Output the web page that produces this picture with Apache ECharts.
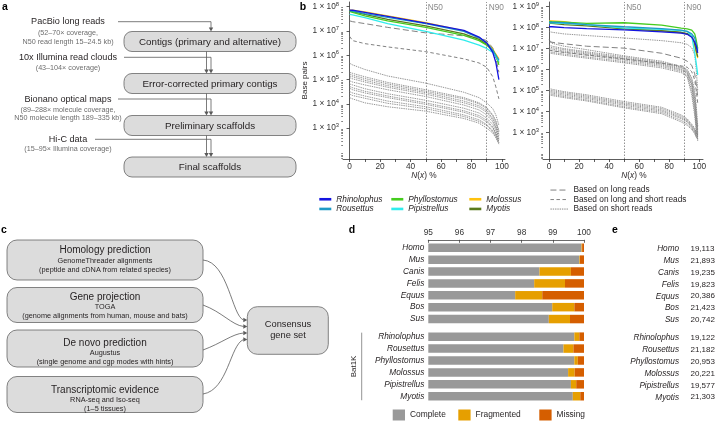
<!DOCTYPE html>
<html>
<head>
<meta charset="utf-8">
<script src="https://cdn.jsdelivr.net/npm/echarts@6.0.0/dist/echarts.min.js"></script>
<style>
html,body{margin:0;padding:0;background:#ffffff;}
#chart{width:716px;height:423px;}
</style>
</head>
<body>
<div id="chart"></div>
<script>
// ================= DATA =================
// Panel b: N(x) curves (x in %, values in base pairs)
const nxContig = [0, 2, 10, 25, 50, 75, 85, 90, 94, 96, 98];
const nxScaffold = [0, 2, 10, 25, 50, 75, 88, 92, 95, 97, 98, 99];

const batSpecies = ['Rhinolophus', 'Rousettus', 'Phyllostomus', 'Pipistrellus', 'Molossus', 'Myotis'];

const contigRhinolophus = [7.2e7, 7.1e7, 5.8e7, 4.0e7, 2.1e7, 1.05e7, 5.6e6, 3.2e6, 1.3e6, 5.0e5, 1.0e5];
const contigRousettus = [6.9e7, 6.6e7, 5.2e7, 3.6e7, 2.0e7, 9.5e6, 5.2e6, 3.2e6, 1.6e6, 1.0e6, 6.3e5];
const contigPhyllostomus = [6.3e7, 5.8e7, 4.2e7, 2.6e7, 1.4e7, 6.6e6, 4.0e6, 2.6e6, 1.6e6, 1.0e6, 4.0e5];
const contigPipistrellus = [4.8e7, 4.6e7, 3.5e7, 2.0e7, 9.5e6, 4.2e6, 2.6e6, 1.9e6, 1.3e6, 8.9e5, 5.6e5];
const contigMolossus = [7.1e7, 7.1e7, 6.0e7, 4.2e7, 2.2e7, 1.0e7, 5.2e6, 3.2e6, 1.8e6, 1.1e6, 7.1e5];
const contigMyotis = [6.6e7, 6.3e7, 4.8e7, 3.0e7, 1.6e7, 7.6e6, 4.5e6, 2.8e6, 1.6e6, 8.9e5, 5.0e5];

const contigLongReads = [
  [2.6e7, 2.4e7, 2.0e7, 1.4e7, 8.3e6, 6.3e6, 5.2e6, 4.0e6, 2.0e6, 7.9e5, 2.0e5]
];
const contigLongShortReads = [
  [6.0e6, 4.0e6, 3.0e6, 2.2e6, 1.4e6, 7.1e5, 4.8e5, 3.2e5, 1.3e5, 5.0e4, 1.6e4]
];
const contigShortReads = [
  [4.7e5, 4.0e5, 2.6e5, 1.4e5, 7.1e4, 3.0e4, 1.8e4, 1.1e4, 6.3e3, 3.5e3, 1.3e3],
  [2.0e5, 1.8e5, 1.3e5, 7.6e4, 3.8e4, 1.8e4, 1.1e4, 7.1e3, 3.5e3, 2.0e3, 7.9e2],
  [1.7e5, 1.5e5, 1.1e5, 6.6e4, 3.3e4, 1.6e4, 1.0e4, 6.3e3, 3.2e3, 1.8e3, 7.1e2],
  [1.4e5, 1.3e5, 9.3e4, 5.6e4, 2.9e4, 1.3e4, 8.3e3, 5.2e3, 2.5e3, 1.4e3, 5.6e2],
  [1.2e5, 1.07e5, 7.9e4, 4.8e4, 2.5e4, 1.1e4, 7.1e3, 4.5e3, 2.2e3, 1.1e3, 5.0e2],
  [8.9e4, 7.9e4, 6.0e4, 3.8e4, 2.0e4, 8.9e3, 5.6e3, 3.5e3, 1.8e3, 1.0e3, 4.0e2],
  [6.6e4, 6.0e4, 4.2e4, 2.6e4, 1.4e4, 6.6e3, 4.2e3, 2.6e3, 1.4e3, 7.9e2, 3.5e2],
  [5.2e4, 4.6e4, 3.3e4, 2.1e4, 1.1e4, 5.2e3, 3.3e3, 2.1e3, 1.1e3, 6.3e2, 3.2e2],
  [4.4e4, 3.8e4, 2.8e4, 1.8e4, 9.5e3, 4.5e3, 2.8e3, 1.8e3, 1.0e3, 5.6e2, 2.8e2],
  [3.2e4, 2.8e4, 2.1e4, 1.3e4, 7.6e3, 3.5e3, 2.2e3, 1.4e3, 7.9e2, 5.0e2, 2.5e2],
  [2.5e4, 2.2e4, 1.7e4, 1.05e4, 6.3e3, 3.0e3, 1.9e3, 1.3e3, 7.1e2, 4.5e2, 2.5e2],
  [1.8e4, 1.6e4, 1.1e4, 7.6e3, 5.0e3, 2.5e3, 1.6e3, 1.0e3, 6.3e2, 4.0e2, 2.2e2]
];

const scaffoldRhinolophus = [1.1e8, 1.1e8, 1.0e8, 8.9e7, 7.8e7, 6.3e7, 5.4e7, 4.8e7, 3.5e7, 2.0e7, 1.3e7, 6.3e6];
const scaffoldRousettus = [1.8e8, 1.8e8, 1.7e8, 1.4e8, 1.1e8, 8.9e7, 7.6e7, 6.6e7, 5.0e7, 3.2e7, 1.6e7, 7.9e6];
const scaffoldPhyllostomus = [1.95e8, 1.9e8, 1.8e8, 1.6e8, 1.7e8, 1.3e8, 9.5e7, 8.7e7, 7.6e7, 5.0e7, 2.5e7, 1.0e7];
const scaffoldPipistrellus = [1.7e8, 1.7e8, 1.6e8, 1.4e8, 9.5e7, 8.3e7, 7.2e7, 6.6e7, 4.0e7, 6.3e6, 2.0e6, 5.6e5];
const scaffoldMolossus = [2.1e8, 2.1e8, 1.9e8, 1.4e8, 8.9e7, 7.1e7, 5.6e7, 5.0e7, 4.0e7, 1.6e7, 6.3e6, 3.5e6];
const scaffoldMyotis = [1.6e8, 1.6e8, 1.4e8, 1.2e8, 8.7e7, 7.1e7, 6.0e7, 5.2e7, 4.0e7, 1.6e7, 7.9e6, 4.0e6];

const scaffoldLongReads = [
  [2.1e7, 2.0e7, 1.7e7, 1.3e7, 1.05e7, 6.0e6, 3.5e6, 2.5e6, 1.6e6, 6.3e5, 2.0e5, 5.0e4]
];
const scaffoldLongShortReads = [
  [8.7e6, 7.9e6, 6.6e6, 5.0e6, 3.2e6, 2.0e6, 1.5e6, 1.3e6, 7.9e5, 3.2e5, 1.0e5, 2.5e4]
];
const scaffoldShortReads = [
  [6.5e7, 6.0e7, 5.0e7, 4.2e7, 3.2e7, 2.4e7, 1.9e7, 1.6e7, 1.1e7, 5.0e6, 1.0e6, 1.0e5],
  [2.8e7, 1.8e7, 1.3e7, 8.9e6, 4.5e6, 2.5e6, 1.4e6, 1.0e6, 4.0e5, 1.0e5, 2.0e4, 2.0e3],
  [1.5e7, 1.3e7, 1.0e7, 7.1e6, 4.0e6, 2.2e6, 1.3e6, 8.9e5, 3.2e5, 6.3e4, 1.0e4, 1.3e3],
  [1.3e7, 1.1e7, 8.9e6, 6.3e6, 3.5e6, 2.0e6, 1.2e6, 7.9e5, 2.5e5, 4.0e4, 6.3e3, 1.0e3],
  [1.05e7, 9.5e6, 7.6e6, 5.6e6, 3.2e6, 1.8e6, 1.05e6, 7.1e5, 2.0e5, 2.5e4, 4.0e3, 7.9e2],
  [8.7e6, 7.9e6, 6.6e6, 4.8e6, 2.8e6, 1.6e6, 9.5e5, 6.3e5, 1.6e5, 1.6e4, 2.5e3, 6.3e2],
  [7.2e6, 6.6e6, 5.5e6, 4.0e6, 2.4e6, 1.4e6, 8.3e5, 5.2e5, 1.0e5, 1.0e4, 1.6e3, 5.0e2],
  [6.3e6, 5.8e6, 4.8e6, 3.5e6, 2.1e6, 1.2e6, 7.2e5, 4.5e5, 6.3e4, 6.3e3, 1.3e3, 4.0e2],
  [1.3e5, 1.15e5, 8.9e4, 6.3e4, 3.0e4, 1.6e4, 6.9e3, 4.5e3, 2.5e3, 1.6e3, 1.0e3, 7.9e2],
  [1.1e5, 1.0e5, 7.9e4, 5.5e4, 2.6e4, 1.4e4, 6.0e3, 4.0e3, 2.2e3, 1.4e3, 8.9e2, 7.1e2],
  [9.5e4, 8.7e4, 6.9e4, 4.8e4, 2.3e4, 1.2e4, 5.2e3, 3.5e3, 2.0e3, 1.3e3, 7.9e2, 6.3e2],
  [8.3e4, 7.6e4, 6.0e4, 4.2e4, 2.0e4, 1.05e4, 4.6e3, 3.2e3, 1.8e3, 1.1e3, 7.1e2, 5.6e2],
  [7.2e4, 6.6e4, 5.2e4, 3.6e4, 1.7e4, 9.1e3, 3.8e3, 2.6e3, 1.6e3, 1.0e3, 6.3e2, 5.0e2],
  [6.3e4, 5.8e4, 4.6e4, 3.2e4, 1.5e4, 7.9e3, 3.2e3, 2.2e3, 1.4e3, 8.9e2, 6.0e2, 4.8e2]
];

const bYTickExpLeft = [3, 4, 5, 6, 7, 8];
const bYTickExpRight = [3, 4, 5, 6, 7, 8, 9];
const bXTickLabels = [0, 20, 40, 60, 80, 100];
const bXTicks = [0, 10, 20, 30, 40, 50, 60, 70, 80, 90, 100];

// Panel d: BUSCO completeness (%)
const buscoOther = ['Homo', 'Mus', 'Canis', 'Felis', 'Equus', 'Bos', 'Sus'];
const completeOther = [99.92, 99.85, 98.57, 98.40, 97.79, 98.98, 98.87];
const fragmentedOther = [0.02, 0.02, 1.01, 0.99, 0.87, 0.71, 0.68];
const missingOther = [0.06, 0.13, 0.42, 0.61, 1.34, 0.31, 0.45];
const buscoBat = ['Rhinolophus', 'Rousettus', 'Phyllostomus', 'Molossus', 'Pipistrellus', 'Myotis'];
const completeBat = [99.69, 99.34, 99.69, 99.49, 99.58, 99.64];
const fragmentedBat = [0.16, 0.32, 0.11, 0.21, 0.17, 0.24];
const missingBat = [0.15, 0.34, 0.20, 0.30, 0.25, 0.12];

// Panel e: gene counts
const genesOther = [19113, 21893, 19235, 19823, 20386, 21423, 20742];
const genesBat = [19122, 21182, 20953, 20221, 19577, 21303];

// Panel a / c texts
const aBoxLabels = ['Contigs (primary and alternative)', 'Error-corrected primary contigs', 'Preliminary scaffolds', 'Final scaffolds'];
const aInputs = [
  ['PacBio long reads', '(52–70× coverage,', 'N50 read length 15–24.5 kb)'],
  ['10x Illumina read clouds', '(43–104× coverage)'],
  ['Bionano optical maps', '(89–288× molecule coverage,', 'N50 molecule length 189–335 kb)'],
  ['Hi-C data', '(15–95× Illumina coverage)']
];
const cBoxLabels = [
  ['Homology prediction', 'GenomeThreader alignments', '(peptide and cDNA from related species)'],
  ['Gene projection', 'TOGA', '(genome alignments from human, mouse and bats)'],
  ['De novo prediction', 'Augustus', '(single genome and cgp modes with hints)'],
  ['Transcriptomic evidence', 'RNA-seq and Iso-seq', '(1–5 tissues)']
];

// ================= STYLE / LAYOUT =================
const FONT = '"Liberation Sans", Arial, Helvetica, sans-serif';
const TXT = '#231f20';
const AX = '#333333';
const speciesColors = {
  Rhinolophus: '#1414e0', Rousettus: '#1f9ac6', Phyllostomus: '#46cc1e',
  Pipistrellus: '#30ecec', Molossus: '#ffc20e', Myotis: '#5a7a1c'
};
const grayStyles = {
  'Based on long reads': {color: '#737373', width: 0.9, type: [6, 3]},
  'Based on long and short reads': {color: '#737373', width: 0.9, type: [3.5, 2.5]},
  'Based on short reads': {color: '#7a7a7a', width: 0.8, type: [1.4, 0.9]}
};

const toPts = (xs, vals) => xs.map((x, i) => [x, Math.log10(vals[i])]);
const minorLog = (lo, hi) => {
  const out = [];
  for (let n = 1; n <= 9; n++) for (let k = 2; k <= 9; k++) {
    const v = n + Math.log10(k);
    if (v > lo && v < hi) out.push(v);
  }
  return out;
};

const B = [
  {grid: {left: 343, top: 2, width: 162, height: 157}, xmin: -4.3, xmax: 102, ymin: 1.73, ymax: 8.19, yt: bYTickExpLeft,
   nx: nxContig,
   bat: {Rhinolophus: contigRhinolophus, Rousettus: contigRousettus, Phyllostomus: contigPhyllostomus,
         Pipistrellus: contigPipistrellus, Molossus: contigMolossus, Myotis: contigMyotis},
   gray: {'Based on long reads': contigLongReads, 'Based on long and short reads': contigLongShortReads, 'Based on short reads': contigShortReads}},
  {grid: {left: 543, top: 2, width: 160, height: 157}, xmin: -4.0, xmax: 102.5, ymin: 1.74, ymax: 9.22, yt: bYTickExpRight,
   nx: nxScaffold,
   bat: {Rhinolophus: scaffoldRhinolophus, Rousettus: scaffoldRousettus, Phyllostomus: scaffoldPhyllostomus,
         Pipistrellus: scaffoldPipistrellus, Molossus: scaffoldMolossus, Myotis: scaffoldMyotis},
   gray: {'Based on long reads': scaffoldLongReads, 'Based on long and short reads': scaffoldLongShortReads, 'Based on short reads': scaffoldShortReads}}
];

const grids = [], xAxes = [], yAxes = [], series = [];
B.forEach((b, g) => {
  grids.push(Object.assign({outerBoundsMode: 'none', containLabel: false}, b.grid));
  xAxes.push({
    type: 'value', gridIndex: g, min: b.xmin, max: b.xmax,
    axisLine: {show: true, lineStyle: {color: AX, width: 0.8}},
    axisTick: {show: true, customValues: bXTicks, length: 3, lineStyle: {color: AX, width: 0.8}},
    axisLabel: {customValues: bXTickLabels, fontSize: 8.3, color: AX, margin: 4, fontFamily: FONT},
    splitLine: {show: false},
    name: '{i|N}({i|x}) %', nameLocation: 'middle', nameGap: 13,
    nameTextStyle: {fontSize: 8.3, color: TXT, fontFamily: FONT, padding: g === 1 ? [0, 0, 0, 22] : 0,
      rich: {i: {fontStyle: 'italic', fontSize: 8.3, color: TXT, fontFamily: FONT}}}
  });
  yAxes.push({
    type: 'value', gridIndex: g, min: b.ymin, max: b.ymax, position: 'left',
    axisLine: {show: true, lineStyle: {color: AX, width: 0.8}},
    axisTick: {show: true, customValues: b.yt, length: 3, lineStyle: {color: AX, width: 0.8}},
    axisLabel: {customValues: b.yt, margin: 4,
      formatter: v => '{m|1 × 10}{s|' + Math.round(v) + '}',
      rich: {m: {fontSize: 8.3, color: AX, fontFamily: FONT}, s: {fontSize: 5.8, color: AX, fontFamily: FONT, padding: [0, 0, 5, 0]}}},
    splitLine: {show: false},
    name: g === 0 ? 'Base pairs' : '', nameLocation: 'middle', nameRotate: 90, nameGap: 30,
    nameTextStyle: {fontSize: 8, color: TXT, fontFamily: FONT}
  });
  yAxes.push({
    type: 'value', gridIndex: g, min: b.ymin, max: b.ymax, position: 'left', offset: 0,
    axisLine: {show: false},
    axisTick: {show: true, customValues: minorLog(b.ymin, b.ymax), length: 1.8, lineStyle: {color: AX, width: 0.6}},
    axisLabel: {show: false}, splitLine: {show: false}
  });
  const yi = g * 2;
  let first = true;
  Object.keys(b.gray).forEach(name => {
    b.gray[name].forEach(vals => {
      const s = {type: 'line', name, xAxisIndex: g, yAxisIndex: yi, data: toPts(b.nx, vals),
        symbol: 'none', silent: true, z: 2, lineStyle: Object.assign({}, grayStyles[name]), itemStyle: {color: grayStyles[name].color}};
      if (first) {
        s.markLine = {silent: true, symbol: 'none', label: {show: false},
          lineStyle: {color: '#777', type: [1.5, 1.5], width: 0.8},
          data: [{xAxis: 50}, {xAxis: 90}]};
        first = false;
      }
      series.push(s);
    });
  });
  ['Molossus', 'Myotis', 'Phyllostomus', 'Pipistrellus', 'Rousettus', 'Rhinolophus'].forEach(sp => {
    series.push({type: 'line', name: sp, xAxisIndex: g, yAxisIndex: yi, data: toPts(b.nx, b.bat[sp]),
      symbol: 'none', silent: true, z: 3, lineStyle: {color: speciesColors[sp], width: 1.3},
      itemStyle: {color: speciesColors[sp]}});
  });
});

// Panel d grids (indices 2, 3)
const dTop = {left: 428.3, top: 241.8, width: 155.7, height: 83.2};
const dBot = {left: 428.3, top: 330.7, width: 155.7, height: 71.5};
grids.push(Object.assign({outerBoundsMode: 'none', containLabel: false}, dTop));
grids.push(Object.assign({outerBoundsMode: 'none', containLabel: false}, dBot));
xAxes.push({type: 'value', gridIndex: 2, position: 'top', min: 95, max: 100, interval: 1, offset: 2,
  axisLine: {show: true, lineStyle: {color: '#444', width: 0.8}},
  axisTick: {show: true, inside: true, length: 3, lineStyle: {color: '#444', width: 0.8}},
  axisLabel: {fontSize: 8.3, color: AX, margin: 3, fontFamily: FONT}, splitLine: {show: false}});
xAxes.push({type: 'value', gridIndex: 3, min: 95, max: 100, show: false, splitLine: {show: false}});
const catAxis = (gi, data) => ({type: 'category', gridIndex: gi, data, inverse: true,
  axisLine: {show: false}, axisTick: {show: false},
  axisLabel: {fontSize: 8.3, fontStyle: 'italic', color: TXT, margin: 4, fontFamily: FONT}});
yAxes.push(catAxis(2, buscoOther)); // yAxisIndex 4
yAxes.push(catAxis(3, buscoBat));   // yAxisIndex 5

const dColors = {Complete: '#999999', Fragmented: '#e69f00', Missing: '#d55e00'};
const bar = (name, data, xi, yi) => ({type: 'bar', name, data, xAxisIndex: xi, yAxisIndex: yi,
  stack: 'busco' + xi, barWidth: 8.5, silent: true, itemStyle: {color: dColors[name]}});
series.push(bar('Complete', completeOther, 2, 4), bar('Fragmented', fragmentedOther, 2, 4), bar('Missing', missingOther, 2, 4));
series.push(bar('Complete', completeBat, 3, 5), bar('Fragmented', fragmentedBat, 3, 5), bar('Missing', missingBat, 3, 5));

const legTxt = (italic, lh) => ({fontSize: 8.3, color: TXT, fontFamily: FONT, fontStyle: italic ? 'italic' : 'normal', lineHeight: lh});
const legends = [
  {data: ['Rhinolophus', 'Rousettus'], left: 318, top: 194.4},
  {data: ['Phyllostomus', 'Pipistrellus'], left: 390, top: 194.4},
  {data: ['Molossus', 'Myotis'], left: 468, top: 194.4}
].map(l => Object.assign({orient: 'vertical', padding: 0, itemGap: 0, itemWidth: 12, itemHeight: 3, itemTextGap: 4,
  selectedMode: false, textStyle: legTxt(true, 9.7), lineStyle: {width: 2.6}, itemStyle: {opacity: 0}}, l));
legends.push({data: ['Based on long reads', 'Based on long and short reads', 'Based on short reads'],
  left: 550, top: 185.3, orient: 'vertical', padding: 0, itemGap: 0, itemWidth: 18, itemHeight: 3, itemTextGap: 3,
  selectedMode: false, textStyle: legTxt(false, 9.5), lineStyle: {width: 0.9}, itemStyle: {opacity: 0}});
[['Complete', 392.7], ['Fragmented', 458.3], ['Missing', 539.3]].forEach(([n, x]) => {
  legends.push({data: [n], left: x, top: 409.5, padding: 0, icon: 'rect', itemWidth: 12.3, itemHeight: 11,
    itemTextGap: 4, selectedMode: false, textStyle: {fontSize: 8.4, color: TXT, fontFamily: FONT}});
});

const chart = echarts.init(document.getElementById('chart'), null, {renderer: 'canvas', width: 716, height: 423});
chart.setOption({
  animation: false,
  backgroundColor: '#ffffff',
  textStyle: {fontFamily: FONT},
  grid: grids, xAxis: xAxes, yAxis: yAxes, legend: legends, series
});

// ================= GRAPHICS (flowcharts, labels, table) =================
const T = (text, x, y, size, o) => ({type: 'text', x, y, silent: true, z: 10,
  style: Object.assign({text, fontSize: size, fontFamily: FONT, fill: TXT,
    align: 'center', verticalAlign: 'middle', textAlign: 'center', textVerticalAlign: 'middle'}, o || {})});
const LINE = '#5a5a5a';
const arrowDown = (x, y) => ({type: 'polygon', silent: true, z: 10, shape: {points: [[x - 2.2, y - 4], [x + 2.2, y - 4], [x, y]]}, style: {fill: LINE}});
const arrowRight = (x, y) => ({type: 'polygon', silent: true, z: 10, shape: {points: [[x - 4, y - 2.2], [x - 4, y + 2.2], [x, y]]}, style: {fill: LINE}});
const poly = pts => ({type: 'polyline', silent: true, z: 9, shape: {points: pts}, style: {stroke: LINE, lineWidth: 0.8, fill: null}});
const box = (x, y, w, h, r) => ({type: 'rect', silent: true, z: 8, shape: {x, y, width: w, height: h, r},
  style: {fill: '#dcdcdc', stroke: '#666666', lineWidth: 0.8}});

const G = [];
// panel letters
[['a', 5, 7], ['b', 303, 7], ['c', 4, 230], ['d', 352, 230], ['e', 615, 230]].forEach(([t, x, y]) =>
  G.push(T(t, x, y, 10.5, {fontWeight: 'bold', fill: '#000'})));

// Panel a
const aTop = [31.5, 73.5, 115.5, 157];
const aTitleY = [21.7, 57.3, 99, 139.3];
const aSubY = [[32.7, 41.7], [67.7], [110, 118.5], [149]];
const aLineStart = [118, 124, 118, 95];
aBoxLabels.forEach((t, i) => {
  G.push(box(124, aTop[i], 172, 20, 8));
  G.push(T(t, 210, aTop[i] + 10.5, 9.8));
});
aInputs.forEach((lines, i) => {
  G.push(T(lines[0], 68, aTitleY[i], 9.1));
  lines.slice(1).forEach((s, k) => G.push(T(s, 68, aSubY[i][k], 7.2, {fill: '#6d6d6d'})));
  G.push(poly([[aLineStart[i], aTitleY[i]], [211, aTitleY[i]], [211, aTop[i] - 3.5]]));
  G.push(arrowDown(211, aTop[i]));
  if (i > 0) {
    G.push(poly([[206.5, aTop[i - 1] + 20], [206.5, aTop[i] - 3.5]]));
    G.push(arrowDown(206.5, aTop[i]));
  }
});

// Panel c
const cBoxY = [[240, 40], [287.5, 35], [330, 37], [376.5, 36]];
const cTextY = [[250, 261, 270], [297.7, 306.7, 315.7], [343.3, 353.3, 362.3], [390.7, 400, 409]];
cBoxLabels.forEach((lines, i) => {
  G.push(box(7, cBoxY[i][0], 196, cBoxY[i][1], 10));
  G.push(T(lines[0], 105, cTextY[i][0], 10));
  G.push(T(lines[1], 105, cTextY[i][1], 7.3));
  G.push(T(lines[2], 105, cTextY[i][2], 7.3));
});
G.push(box(247.3, 306.7, 81, 47.6, 10));
G.push(T('Consensus', 288, 324, 9.3));
G.push(T('gene set', 288, 335, 9.3));
const curves = [
  [203, 260, 228, 262, 232, 316, 243.5, 320],
  [203, 305, 222, 312, 232, 325, 243.5, 326.5],
  [203, 350, 222, 343, 232, 334, 243.5, 333],
  [203, 394, 228, 390, 230, 345, 243.5, 339.5]
];
curves.forEach(c => {
  G.push({type: 'bezierCurve', silent: true, z: 9, shape: {x1: c[0], y1: c[1], cpx1: c[2], cpy1: c[3], cpx2: c[4], cpy2: c[5], x2: c[6], y2: c[7]},
    style: {stroke: LINE, lineWidth: 0.8, fill: null}});
  G.push(arrowRight(247.3, c[7]));
});

// Panel b labels (N50/N90) positioned through the axes
[0, 1].forEach(g => {
  [[50, 'N50'], [90, 'N90']].forEach(([v, t]) => {
    const px = chart.convertToPixel({xAxisIndex: g}, v);
    G.push(T(t, px + 2, 7.3, 8.3, {align: 'left', textAlign: 'left', fill: '#8a8a8a'}));
  });
});

// Panel d: Bat1K bracket
const batY0 = chart.convertToPixel({yAxisIndex: 5}, 0);
const batY1 = chart.convertToPixel({yAxisIndex: 5}, buscoBat.length - 1);
G.push({type: 'line', silent: true, z: 9, shape: {x1: 361.7, y1: batY0 - 4, x2: 361.7, y2: batY1 + 4}, style: {stroke: '#777', lineWidth: 0.8}});
G.push(T('Bat1K', 353.3, (batY0 + batY1) / 2, 8, {fill: TXT}));
G[G.length - 1].rotation = Math.PI / 2;

// Panel e: table rows aligned with panel d rows
const fmt = n => n.toLocaleString('en-US');
buscoOther.forEach((sp, i) => {
  const y = chart.convertToPixel({yAxisIndex: 4}, i) + 1;
  G.push(T(sp, 679, y, 8.2, {align: 'right', textAlign: 'right', fontStyle: 'italic'}));
  G.push(T(fmt(genesOther[i]), 690.5, y, 8.0, {align: 'left', textAlign: 'left'}));
});
buscoBat.forEach((sp, i) => {
  const y = chart.convertToPixel({yAxisIndex: 5}, i) + 1;
  G.push(T(sp, 679, y, 8.2, {align: 'right', textAlign: 'right', fontStyle: 'italic'}));
  G.push(T(fmt(genesBat[i]), 690.5, y, 8.0, {align: 'left', textAlign: 'left'}));
});

chart.setOption({graphic: G});
</script>
</body>
</html>
